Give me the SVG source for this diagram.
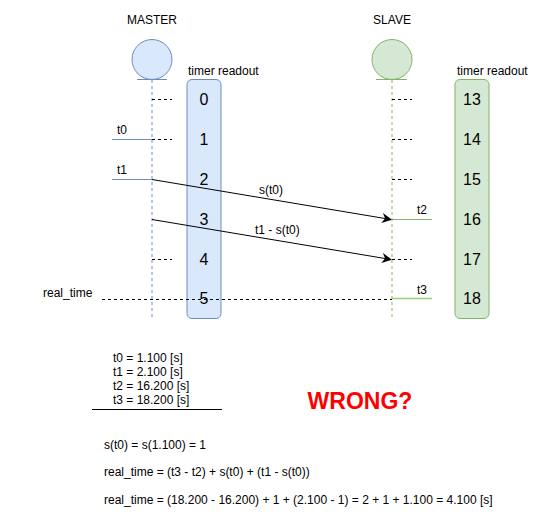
<svg xmlns="http://www.w3.org/2000/svg" width="547" height="524" viewBox="0 0 547 524">
<style>
text{font-family:"Liberation Sans",Arial,sans-serif;fill:#000}
.s{font-size:12px}
.n{font-size:16px;text-anchor:middle}
.c{text-anchor:middle}
.tick{stroke:#000;stroke-width:1;stroke-dasharray:3 3;fill:none}
.arr{stroke:#000;stroke-width:1;fill:none}
</style>
<defs>
<marker id="ah" viewBox="0 0 10 10" refX="9" refY="5" markerWidth="10" markerHeight="10" markerUnits="userSpaceOnUse" orient="auto">
<path d="M0,0 L10,5 L0,10 L3,5 Z" fill="#000"/>
</marker>
</defs>
<rect width="547" height="524" fill="#fff"/>
<g id="master">
<text class="s c" x="152" y="24">MASTER</text>
<circle cx="152" cy="59.5" r="20" fill="#dae8fc" stroke="#6c8ebf"/>
<line x1="137" y1="79.5" x2="167" y2="79.5" stroke="#6c8ebf"/>
<line x1="152" y1="80" x2="152" y2="320" stroke="#6c8ebf" stroke-dasharray="3 3"/>
</g>
<g id="master-timer">
<text class="s" x="188" y="75">timer readout</text>
<rect x="187" y="79.5" width="34" height="239" rx="5" fill="#dae8fc" stroke="#6c8ebf"/>
<text class="n" x="204" y="105">0</text>
<text class="n" x="204" y="145">1</text>
<text class="n" x="204" y="185">2</text>
<text class="n" x="204" y="225">3</text>
<text class="n" x="204" y="265">4</text>
<text class="n" x="204" y="304">5</text>
</g>
<g id="slave">
<text class="s c" x="392" y="24">SLAVE</text>
<circle cx="392" cy="59.5" r="20" fill="#d5e8d4" stroke="#82b366"/>
<line x1="376" y1="79.5" x2="407" y2="79.5" stroke="#82b366"/>
<line x1="392" y1="80" x2="392" y2="320" stroke="#82b366" stroke-dasharray="3 3"/>
</g>
<g id="slave-timer">
<text class="s" x="457" y="75">timer readout</text>
<rect x="455" y="79.5" width="34" height="239" rx="5" fill="#d5e8d4" stroke="#82b366"/>
<text class="n" x="472" y="105">13</text>
<text class="n" x="472" y="145">14</text>
<text class="n" x="472" y="185">15</text>
<text class="n" x="472" y="225">16</text>
<text class="n" x="472" y="265">17</text>
<text class="n" x="472" y="304">18</text>
</g>
<g id="connectors">
<line class="tick" x1="152" y1="99.5" x2="172" y2="99.5"/>
<line class="tick" x1="152" y1="139.5" x2="172" y2="139.5"/>
<line class="tick" x1="152" y1="259.5" x2="172" y2="259.5"/>
<line class="tick" x1="392" y1="99.5" x2="412" y2="99.5"/>
<line class="tick" x1="392" y1="139.5" x2="412" y2="139.5"/>
<line class="tick" x1="392" y1="179.5" x2="412" y2="179.5"/>
<line class="tick" x1="392" y1="259.5" x2="412" y2="259.5"/>
<line x1="112" y1="139.5" x2="152" y2="139.5" stroke="#6c8ebf"/>
<line x1="112" y1="179.5" x2="152" y2="179.5" stroke="#6c8ebf"/>
<line x1="392" y1="219.5" x2="432" y2="219.5" stroke="#82b366"/>
<line x1="392" y1="298.5" x2="432" y2="298.5" stroke="#97d077" stroke-width="1.5"/>
<line class="arr" x1="152" y1="179.5" x2="391" y2="219.5" marker-end="url(#ah)"/>
<line class="arr" x1="152" y1="219.5" x2="391" y2="259.5" marker-end="url(#ah)"/>
<line class="tick" x1="102" y1="299.5" x2="392" y2="299.5"/>
<text class="s" x="117" y="134">t0</text>
<text class="s" x="117" y="174">t1</text>
<text class="s" x="417" y="214">t2</text>
<text class="s" x="417" y="294">t3</text>
<text class="s" x="43" y="297">real_time</text>
<text class="s" x="259" y="194">s(t0)</text>
<text class="s" x="255" y="234">t1 - s(t0)</text>
</g>
<g id="notes">
<text class="s" x="113" y="362">t0 = 1.100 [s]</text>
<text class="s" x="113" y="376">t1 = 2.100 [s]</text>
<text class="s" x="113" y="390">t2 = 16.200 [s]</text>
<text class="s" x="113" y="404">t3 = 18.200 [s]</text>
<line x1="92" y1="409.5" x2="222" y2="409.5" stroke="#000"/>
<text x="360" y="409" font-size="23" font-weight="bold" text-anchor="middle" style="fill:#ff0000">WRONG?</text>
<text class="s" x="104" y="449">s(t0) = s(1.100) = 1</text>
<text class="s" x="104" y="476">real_time = (t3 - t2) + s(t0) + (t1 - s(t0))</text>
<text class="s" x="104" y="504">real_time = (18.200 - 16.200) + 1 + (2.100 - 1) = 2 + 1 + 1.100 = 4.100 [s]</text>
</g>
</svg>
